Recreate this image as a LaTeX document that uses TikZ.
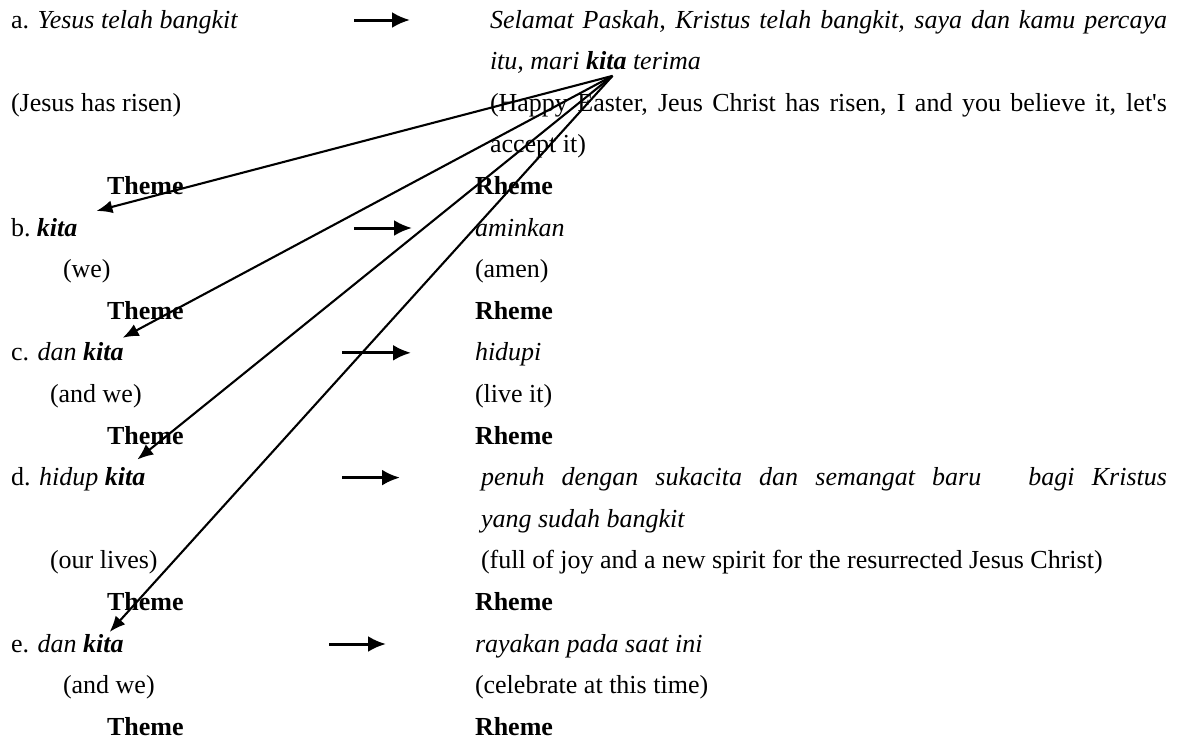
\documentclass[tikz,border=0pt]{standalone}
\usepackage{fontspec}
\setmainfont{Liberation Serif}
\usepackage{tikz}
\usetikzlibrary{arrows.meta,positioning}

\begin{document}
\begin{tikzpicture}[x=0.5pt, y=-0.5pt, font=\fontsize{13}{15.6}\selectfont,
        txt/.style={anchor=base west, inner sep=0pt, outer sep=0pt},
        hop/.style={-{Latex[length=9pt, width=8pt]}, line width=1.5pt},
        refer/.style={-{Latex[length=8pt, width=6.5pt]}, line width=1.05pt}]
        \useasboundingbox (0,0) rectangle (1180,741);
        % a
        \node[txt] (la) at (11,28) {a. \textit{Yesus telah bangkit}};
        \node[txt] (ra) at (490,28) {\makebox[338.5pt][s]{\itshape Selamat Paskah, Kristus telah bangkit, saya dan kamu percaya}};
        \node[txt] (ra2) at (490,69.6) {\textit{itu, mari}};
        \node[txt, base right=3.25pt of ra2] (ka) {\textbf{\textit{kita}}};
        \node[txt, base right=3.25pt of ka] (ra3) {\textit{terima}};
        \node[txt] (ga) at (11,111.2) {(Jesus has risen)};
        \node[txt] (ga2) at (490,111.2) {\makebox[338.5pt][s]{(Happy Easter, Jeus Christ has risen, I and you believe it, let\textquotesingle s}};
        \node[txt] (ga3) at (490,152.8) {accept it)};
        \node[txt] (ta) at (107,194.4) {\textbf{Theme}};
        \node[txt] (ha) at (475,194.4) {\textbf{Rheme}};
        % b
        \node[txt] (lb) at (11,236) {b.};
        \node[txt, base right=3.25pt of lb] (kb) {\textbf{\textit{kita}}};
        \node[txt] (rb) at (475,236) {\textit{aminkan}};
        \node[txt] (gb) at (63,277.6) {(we)};
        \node[txt] (gb2) at (475,277.6) {(amen)};
        \node[txt] (tb) at (107,319.2) {\textbf{Theme}};
        \node[txt] (hb) at (475,319.2) {\textbf{Rheme}};
        % c
        \node[txt] (lc) at (11,360.8) {c. \textit{dan}};
        \node[txt, base right=3.25pt of lc] (kc) {\textbf{\textit{kita}}};
        \node[txt] (rc) at (475,360.8) {\textit{hidupi}};
        \node[txt] (gc) at (50,402.4) {(and we)};
        \node[txt] (gc2) at (475,402.4) {(live it)};
        \node[txt] (tc) at (107,444) {\textbf{Theme}};
        \node[txt] (hc) at (475,444) {\textbf{Rheme}};
        % d
        \node[txt] (ld) at (11,485.6) {d. \textit{hidup}};
        \node[txt, base right=3.25pt of ld] (kd) {\textbf{\textit{kita}}};
        \node[txt] (rd) at (481,485.6) {\makebox[343pt][s]{\itshape penuh dengan sukacita dan semangat baru\hspace{15pt} bagi Kristus}};
        \node[txt] (rd2) at (481,527.2) {\textit{yang sudah bangkit}};
        \node[txt] (gd) at (50,568.8) {(our lives)};
        \node[txt] (gd2) at (481,568.8) {(full of joy and a new spirit for the resurrected Jesus Christ)};
        \node[txt] (td) at (107,610.4) {\textbf{Theme}};
        \node[txt] (hd) at (475,610.4) {\textbf{Rheme}};
        % e
        \node[txt] (le) at (11,652) {e. \textit{dan}};
        \node[txt, base right=3.25pt of le] (ke) {\textbf{\textit{kita}}};
        \node[txt] (re) at (475,652) {\textit{rayakan pada saat ini}};
        \node[txt] (ge) at (63,693.6) {(and we)};
        \node[txt] (ge2) at (475,693.6) {(celebrate at this time)};
        \node[txt] (te) at (107,735.2) {\textbf{Theme}};
        \node[txt] (he) at (475,735.2) {\textbf{Rheme}};
        % theme -> rheme
        \coordinate (a0) at (354,20);    \coordinate (a1) at (410,20);
        \coordinate (b0) at (354,228);   \coordinate (b1) at (412,228);
        \coordinate (c0) at (342,352.8); \coordinate (c1) at (411,352.8);
        \coordinate (d0) at (342,477.6); \coordinate (d1) at (400,477.6);
        \coordinate (e0) at (329,644);   \coordinate (e1) at (386,644);
        \draw[hop] (a0) -- (a1);
        \draw[hop] (b0) -- (b1);
        \draw[hop] (c0) -- (c1);
        \draw[hop] (d0) -- (d1);
        \draw[hop] (e0) -- (e1);
        % kita -> kita
        \coordinate (src) at ([xshift=-7pt, yshift=-3pt]ka.south east);
        \draw[refer] (src) -- ([xshift=9.5pt, yshift=3.5pt]kb.north east);
        \draw[refer] (src) -- ([xshift=-0.5pt, yshift=2.5pt]kc.north east);
        \draw[refer] (src) -- ([xshift=-4pt, yshift=4pt]kd.north east);
        \draw[refer] (src) -- ([xshift=-7pt, yshift=1pt]ke.north east);
\end{tikzpicture}
\end{document}
